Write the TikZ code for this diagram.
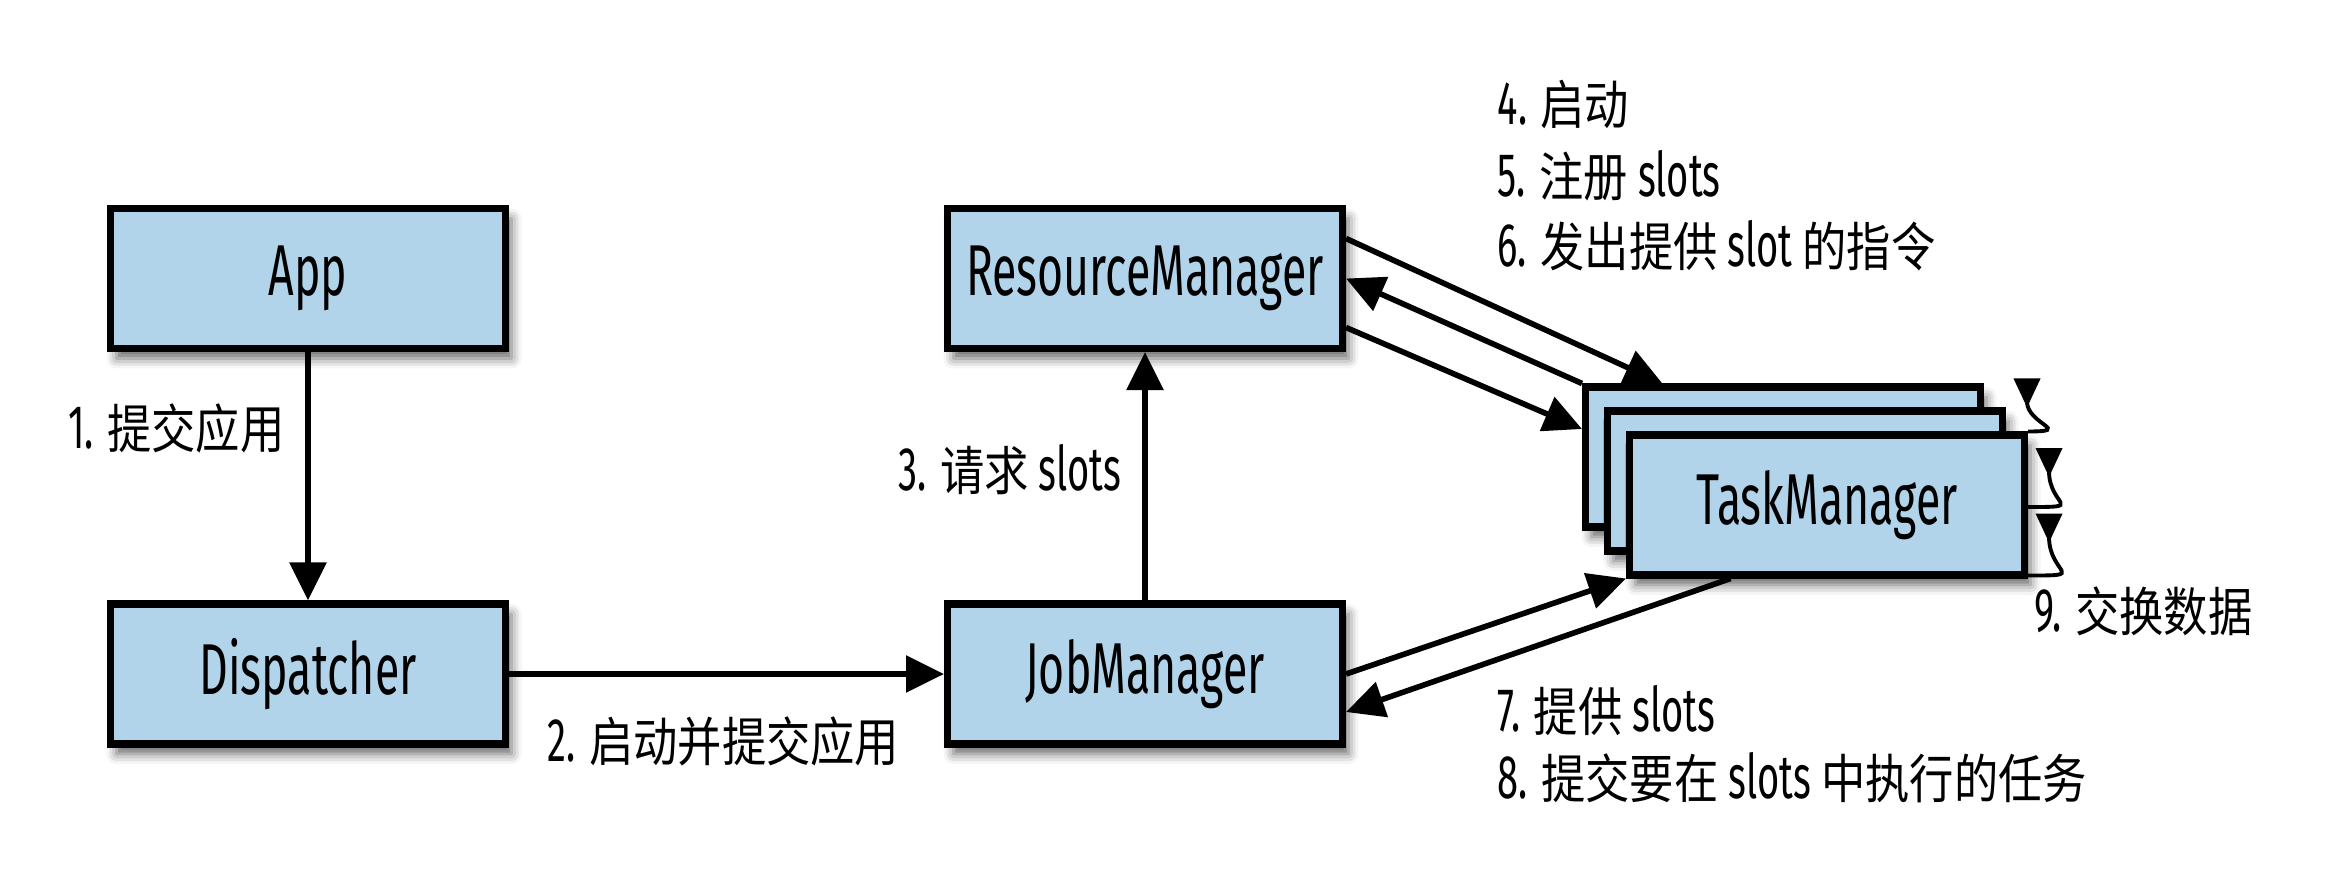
\documentclass[tikz,border=0pt]{standalone}
\usepackage{fontspec}
\setmainfont{Fira Sans}[FakeStretch=0.62]
\newfontfamily\zhfont{Noto Sans CJK SC}[FakeStretch=0.84]
\newcommand{\zh}[1]{{\zhfont\fontsize{15}{18}\selectfont #1}}
\usetikzlibrary{arrows.meta, shadows.blur, calc}
\definecolor{boxblue}{RGB}{178,212,234}

\begin{document}
\begin{tikzpicture}[
    box/.style={draw, line width=2pt, fill=boxblue, minimum width=3.95cm, minimum height=1.40cm, inner sep=0pt,
      font=\fontsize{20.5}{24}\selectfont,
      blur shadow={shadow xshift=0.06cm, shadow yshift=-0.10cm, shadow blur radius=0.10cm, shadow opacity=60}},
    arr/.style={line width=1.6pt, -{Triangle[length=0.38cm, width=0.36cm]}},
    loopy/.style={line width=1.1pt, -{Triangle[length=0.29cm, width=0.26cm, reversed]}},
    lbl/.style={inner sep=0pt, font=\fontsize{17.5}{21}\selectfont}
  ]
  \useasboundingbox (0,0) rectangle (23.36,8.94);

  \node[box] (app) at (3.08,6.155) {App};
  \node[box] (dispatcher) at (3.08,2.20) {Dispatcher};
  \node[box] (rm) at (11.45,6.155) {ResourceManager};
  \node[box] (jm) at (11.45,2.20) {JobManager};

  \node[box] (tmback) at (17.83,4.37) {};
  \node[box] (tmmid) at (18.05,4.13) {};
  \node[box] (tmfront) at (18.27,3.89) {TaskManager};

  \draw[arr] (app) -- (dispatcher);
  \draw[arr] (dispatcher) -- (jm);
  \draw[arr] (jm) -- (rm);

  \draw[arr] ([yshift=0.40cm]rm.east) -- ($(tmback.north west)!0.2!(tmback.north east)$);
  \draw[arr] (tmback.north west) -- (rm.east);
  \draw[arr] ([yshift=-0.49cm]rm.east) -- ([yshift=0.28cm]tmback.west);

  \draw[arr] (jm.east) -- (tmfront.south west);
  \draw[arr] ($(tmfront.south west)!0.26!(tmfront.south east)$) -- ([yshift=-0.38cm]jm.east);

  % exchange loops on the right of the task managers
  \coordinate (loopone) at ([shift={(-0.01,0.53)}]tmfront.north east);
  \coordinate (looptwo) at ([shift={(0.21,0.57)}]tmfront.east);
  \coordinate (loopthree) at ([shift={(0.21,0.65)}]tmfront.south east);
  \draw[loopy] (tmfront.north east) to[out=0, in=-90, looseness=2.2] (loopone);
  \draw[loopy] ([yshift=-0.02cm]tmfront.east) to[out=0, in=-90, looseness=2.4] (looptwo);
  \draw[loopy] ([yshift=0.03cm]tmfront.south east) to[out=0, in=-90, looseness=2.4] (loopthree);

  \node[lbl, anchor=east] (stepone) at (2.85,4.66) {1. \zh{提交应用}};
  \node[lbl, anchor=west] (steptwo) at (5.47,1.53) {2. \zh{启动并提交应用}};
  \node[lbl, anchor=east] (stepthree) at (11.22,4.24) {3. \zh{请求} slots};
  \node[lbl, anchor=west] (stepfour) at (14.97,7.90) {4. \zh{启动}};
  \node[lbl, anchor=west] (stepfive) at (14.97,7.18) {5. \zh{注册} slots};
  \node[lbl, anchor=west] (stepsix) at (14.97,6.48) {6. \zh{发出提供} slot \zh{的指令}};
  \node[lbl, anchor=west] (stepseven) at (14.97,1.83) {7. \zh{提供} slots};
  \node[lbl, anchor=west] (stepeight) at (14.97,1.16) {8. \zh{提交要在} slots \zh{中执行的任务}};
  \node[lbl, anchor=west] (stepnine) at (20.34,2.83) {9. \zh{交换数据}};
\end{tikzpicture}
\end{document}
